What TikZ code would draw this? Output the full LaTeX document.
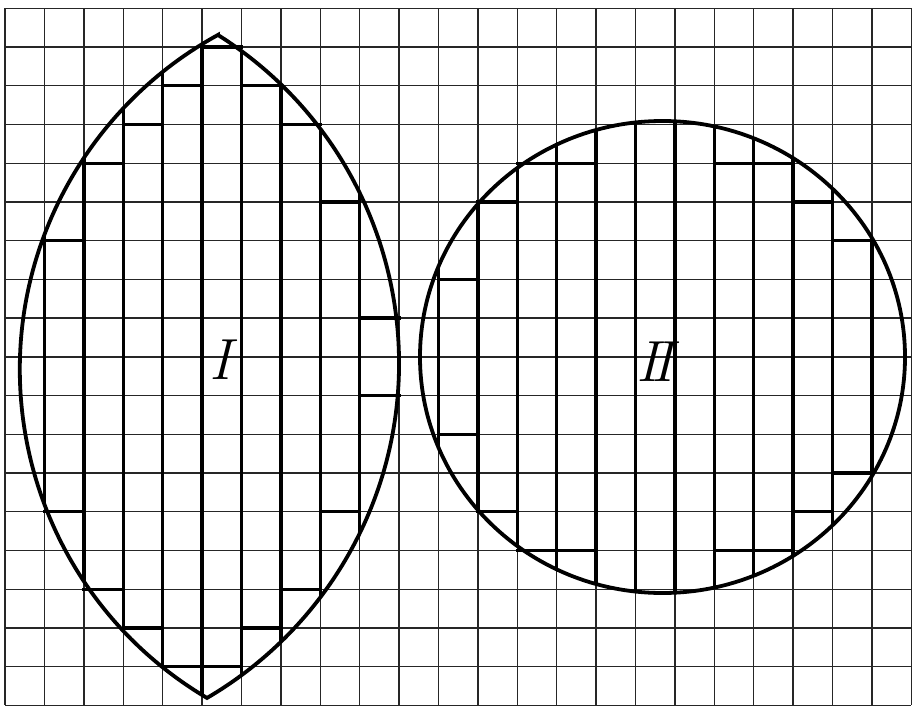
\documentclass[tikz,border=0pt]{standalone}
\begin{document}
\begin{tikzpicture}[x=1pt,y=-1pt,
  gridline/.style={line width=1.4pt, black!85},
  stripe/.style={line width=3.4pt, black},
  outline/.style={line width=3.8pt, black, line join=miter},
  hseg/.style={line width=3.4pt, black, line cap=rect},
  numeral/.style={font=\fontsize{58}{60}\selectfont\itshape, inner sep=0pt}]
\useasboundingbox (0,0) rectangle (913,706);
\fill[white] (0,0) rectangle (913,706);
% grid
\begin{scope}[shift={(5,8.3)}, x=39.4pt, y=-38.73pt]
  \foreach \k in {0,...,23} \draw[gridline] (\k,0) -- (\k,18);
  \foreach \j in {0,...,18} \draw[gridline] (0,\j) -- (23,\j);
\end{scope}
\coordinate (Itop) at (218,35);
\coordinate (Ibot) at (207,698);
\coordinate (IIc) at (662.5,357);
% stripes in lens I
\begin{scope}
  \clip (Itop) arc[start angle=-57.76, end angle=59.66, radius=387.97]
        arc[start angle=120.64, end angle=241.26, radius=381.7] -- cycle;
  \begin{scope}[shift={(5,8.3)}, x=39.4pt, y=-38.73pt]
    \foreach \k in {1,...,9} \draw[stripe] (\k,0) -- (\k,18);
  \end{scope}
\end{scope}
% stripes in circle II
\begin{scope}
  \clip (IIc) ellipse[x radius=242.5, y radius=236];
  \begin{scope}[shift={(5,8.3)}, x=39.4pt, y=-38.73pt]
    \foreach \k in {11,...,22} \draw[stripe] (\k,0) -- (\k,18);
  \end{scope}
\end{scope}
% horizontal steps
\begin{scope}[shift={(5,8.3)}, x=39.4pt, y=-38.73pt]
  \foreach \c/\t/\b in {1/6/13, 2/4/15, 3/3/16, 4/2/17, 5/1/17, 6/2/16, 7/3/15, 8/5/13, 9/8/10,
                        11/7/11, 12/5/13, 13/4/14, 14/4/14, 18/4/14, 19/4/14, 20/5/13, 21/6/12}
  {
    \draw[hseg] (\c,\t) -- (\c+1,\t);
    \draw[hseg] (\c,\b) -- (\c+1,\b);
  }
\end{scope}
% outlines
\draw[outline] (Itop) arc[start angle=-57.76, end angle=59.66, radius=387.97]
      arc[start angle=120.64, end angle=241.26, radius=381.7] -- cycle;
\draw[outline] (IIc) ellipse[x radius=242.5, y radius=236];
% labels
\node[numeral] (labI) at (220,360) {I};
\node[numeral] (labII) at (655,362) {I\kern-.12em I};
\end{tikzpicture}
\end{document}
